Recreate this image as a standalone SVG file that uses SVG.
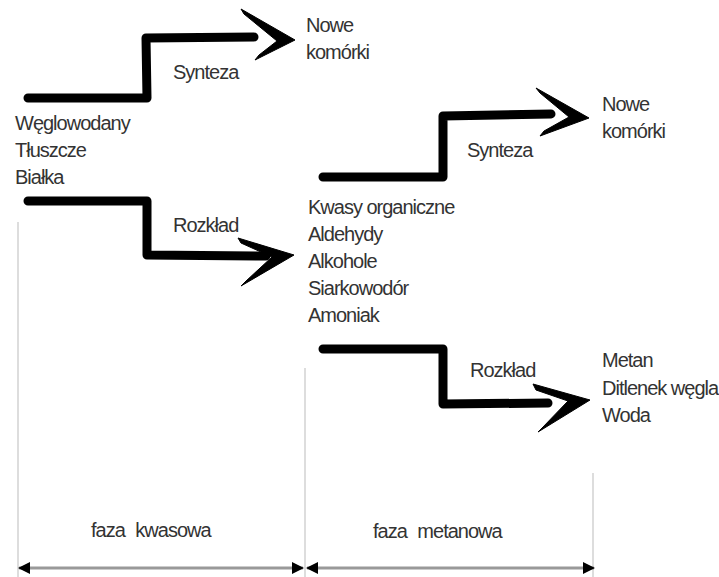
<svg xmlns="http://www.w3.org/2000/svg" width="719" height="577" viewBox="0 0 719 577">
<defs>
<style>
.t{font-family:"Liberation Sans",Arial,sans-serif;font-size:20px;letter-spacing:-1px;fill:#333}
.brush{fill:none;stroke:#000;stroke-width:9;stroke-linecap:round;stroke-linejoin:round}
.head{fill:#000;stroke:#000;stroke-width:1;stroke-linejoin:round}
.guide{stroke:#ddd;stroke-width:2;fill:none}
.dim{stroke:#999;stroke-width:3;fill:none}
</style>
<marker id="ah" viewBox="0 0 12 12" refX="11" refY="6" markerWidth="12" markerHeight="12" markerUnits="userSpaceOnUse" orient="auto-start-reverse">
<path d="M0,0 L12,6 L0,12 Z" fill="#000"/>
</marker>
</defs>
<rect width="719" height="577" fill="#fff"/>

<g id="guides">
<line class="guide" x1="18" y1="222" x2="18" y2="577"/>
<line class="guide" x1="305" y1="368" x2="305" y2="577"/>
<line class="guide" x1="593" y1="473" x2="593" y2="577"/>
</g>

<g id="connectors">
<path class="brush" d="M28,98 L147,98 L146,38 L254,37"/>
<polygon class="head" points="241,9 295,40 255,60 259,55 277,41 244,14"/>
<path class="brush" d="M28,201 L147,201 L147,255 L266,256"/>
<polygon class="head" points="238,238 294,255 241,286 246,281 272,257 241,243"/>
<path class="brush" d="M323,177 L443,177 L443,116 L551,114"/>
<polygon class="head" points="536,88 589,118 540,136 544,131 569,117 540,93"/>
<path class="brush" d="M323,349 L443,349 L443,404 L548,403"/>
<polygon class="head" points="533,384 590,400 538,432 543,427 568,401 536,390"/>
<line class="dim" x1="19" y1="568" x2="303" y2="568" marker-start="url(#ah)" marker-end="url(#ah)"/>
<line class="dim" x1="307" y1="568" x2="594" y2="568" marker-start="url(#ah)" marker-end="url(#ah)"/>
</g>

<g id="substrates">
<text class="t" x="15" y="130">Węglowodany</text>
<text class="t" x="15" y="157">Tłuszcze</text>
<text class="t" x="15" y="184">Białka</text>
</g>
<g id="synteza1"><text class="t" x="173" y="79">Synteza</text></g>
<g id="nowe1">
<text class="t" x="306" y="32">Nowe</text>
<text class="t" x="306" y="59">komórki</text>
</g>
<g id="rozklad1"><text class="t" x="173" y="232">Rozkład</text></g>
<g id="intermediates">
<text class="t" x="308" y="214">Kwasy organiczne</text>
<text class="t" x="308" y="241">Aldehydy</text>
<text class="t" x="308" y="268">Alkohole</text>
<text class="t" x="308" y="295">Siarkowodór</text>
<text class="t" x="308" y="322">Amoniak</text>
</g>
<g id="synteza2"><text class="t" x="467" y="157">Synteza</text></g>
<g id="nowe2">
<text class="t" x="602" y="111">Nowe</text>
<text class="t" x="602" y="138">komórki</text>
</g>
<g id="rozklad2"><text class="t" x="470" y="377">Rozkład</text></g>
<g id="products">
<text class="t" x="602" y="367">Metan</text>
<text class="t" x="602" y="395">Ditlenek węgla</text>
<text class="t" x="602" y="422">Woda</text>
</g>
<g id="faza-kwasowa"><text class="t" x="91" y="537" style="word-spacing:6px">faza kwasowa</text></g>
<g id="faza-metanowa"><text class="t" x="373" y="538" style="word-spacing:6px">faza metanowa</text></g>
</svg>
